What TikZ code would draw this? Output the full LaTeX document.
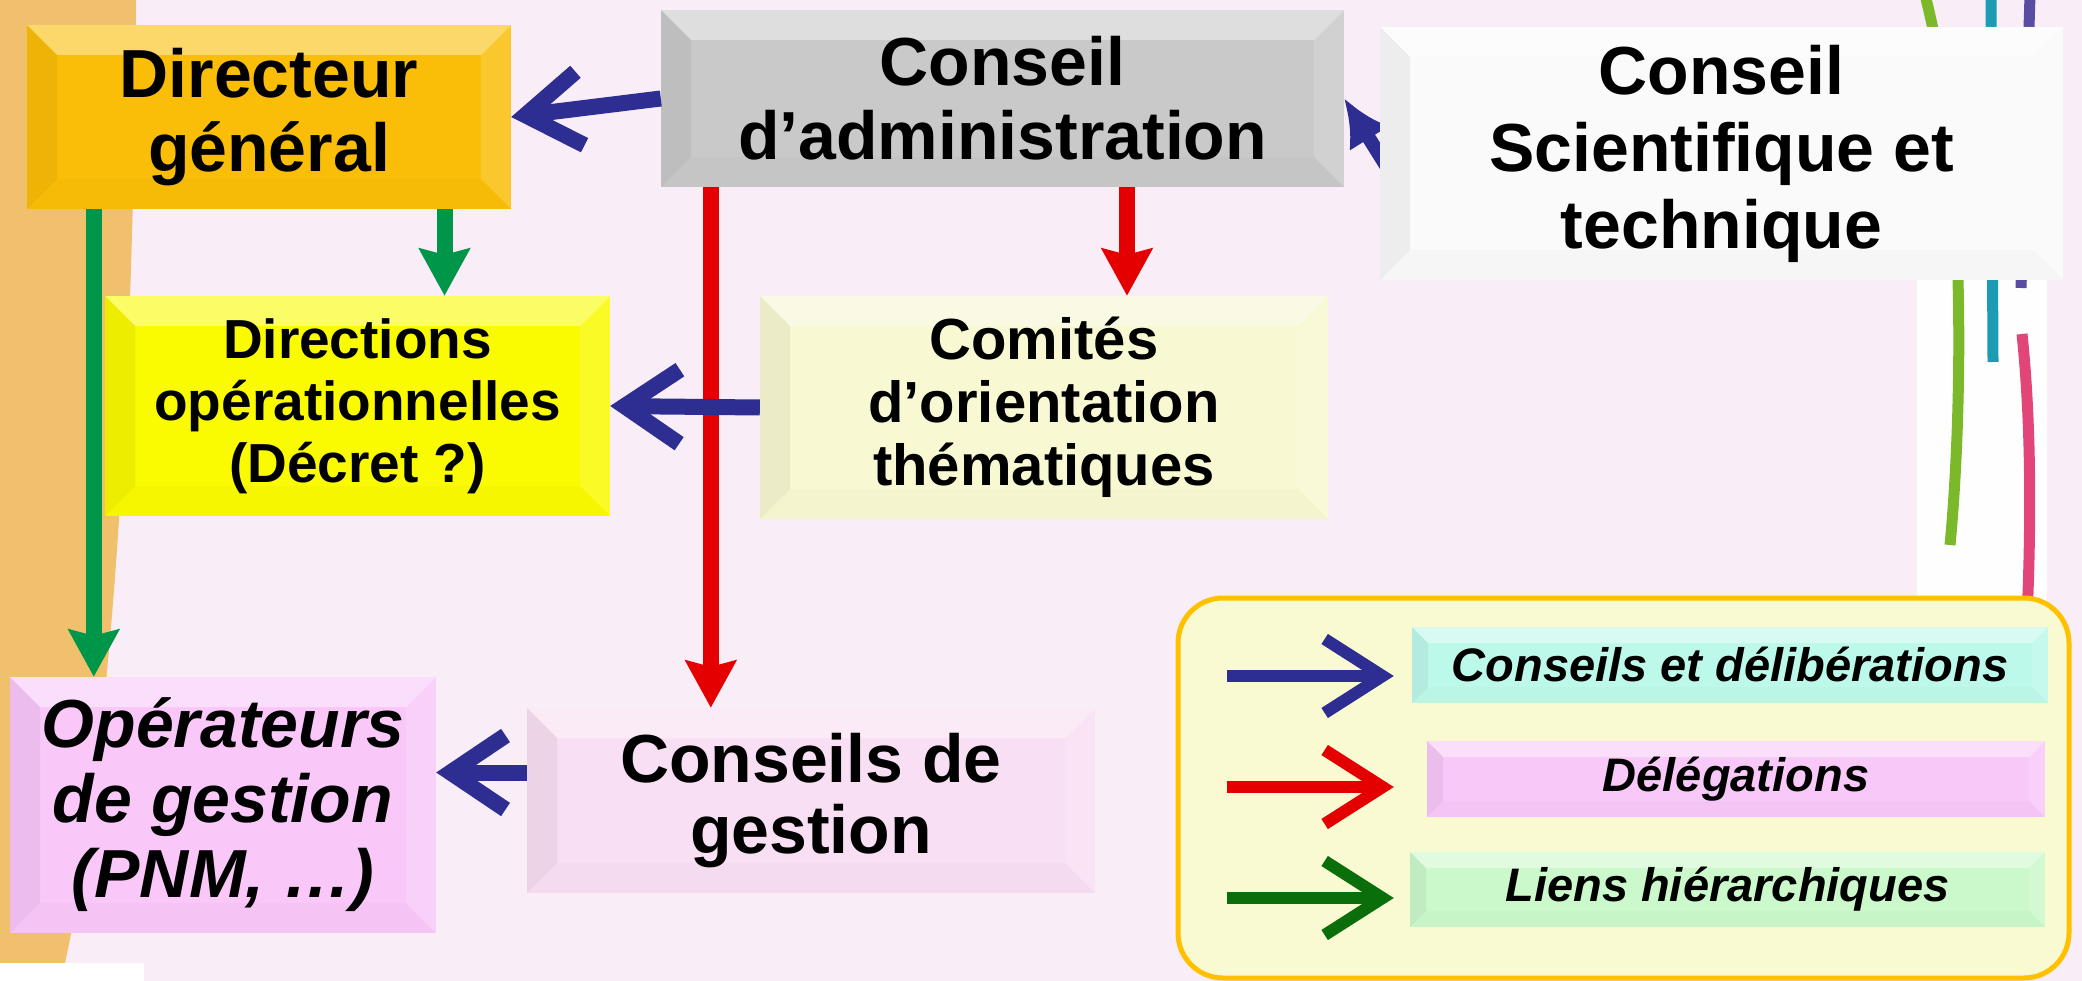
\documentclass[tikz,border=0pt]{standalone}
\usepackage{fontspec}
\setmainfont{Liberation Sans}
\usetikzlibrary{arrows.meta}
\definecolor{bgpink}{HTML}{F9EEF7}
\definecolor{stripe}{HTML}{F0C06C}
\definecolor{dgfill}{HTML}{FABE08}
\definecolor{adminfill}{HTML}{C9C9C9}
\definecolor{cstfill}{HTML}{FAFAFA}
\definecolor{dirfill}{HTML}{FAFA00}
\definecolor{comfill}{HTML}{F8F8D2}
\definecolor{operfill}{HTML}{F9C8F9}
\definecolor{cgfill}{HTML}{F9DFF3}
\definecolor{legfill}{HTML}{FAFAD2}
\definecolor{legdraw}{HTML}{FFC000}
\definecolor{labafill}{HTML}{BDF9EA}
\definecolor{labbfill}{HTML}{F8C8F8}
\definecolor{labcfill}{HTML}{CCF9CC}
\definecolor{arrblue}{HTML}{2E2E92}
\definecolor{arrred}{HTML}{E40000}
\definecolor{arrgreen}{HTML}{00964A}
\definecolor{arrdkgreen}{HTML}{0A6E0A}
\definecolor{lgreen}{HTML}{7CB92A}
\definecolor{lteal}{HTML}{1C9CB2}
\definecolor{lpurple}{HTML}{5A4CA2}
\definecolor{lpink}{HTML}{E24679}
\pgfdeclarelayer{behind}
\pgfsetlayers{behind,main}
\tikzset{
  bevel/.style={path picture={
    \coordinate (bvnw) at (path picture bounding box.north west);
    \coordinate (bvne) at (path picture bounding box.north east);
    \coordinate (bvsw) at (path picture bounding box.south west);
    \coordinate (bvse) at (path picture bounding box.south east);
    \coordinate (bvinw) at ([shift={(#1,-#1)}]bvnw);
    \coordinate (bvine) at ([shift={(-#1,-#1)}]bvne);
    \coordinate (bvisw) at ([shift={(#1,#1)}]bvsw);
    \coordinate (bvise) at ([shift={(-#1,#1)}]bvse);
    \fill[white,opacity=.4] (bvnw) -- (bvne) -- (bvine) -- (bvinw) -- cycle;
    \fill[black,opacity=.05] (bvnw) -- (bvinw) -- (bvisw) -- (bvsw) -- cycle;
    \fill[white,opacity=.15] (bvne) -- (bvse) -- (bvise) -- (bvine) -- cycle;
    \fill[black,opacity=.015] (bvsw) -- (bvisw) -- (bvise) -- (bvse) -- cycle;
  }},
  bevel/.default=30pt
}

\begin{document}
\begin{tikzpicture}[x=1pt,y=1pt]
\tikzstyle{every node}+=[inner sep=0pt]
\tikzstyle{box}=[bevel, align=center, font=\bfseries\fontsize{68}{74}\selectfont]
\tikzstyle{leglab}=[bevel=16pt, font=\bfseries\itshape\fontsize{47}{52}\selectfont]
\tikzstyle{blueline}=[arrblue, line width=16pt, -{Straight Barb[length=55pt, width=74pt]}]
\tikzstyle{redline}=[arrred, line width=16pt, -{Stealth[length=47pt, width=50pt, inset=6pt]}]
\tikzstyle{greenline}=[arrgreen, line width=16pt, -{Stealth[length=47pt, width=50pt, inset=6pt]}]
\tikzstyle{legline}=[line width=12pt, -{Straight Barb[length=58pt, width=74pt]}]
\useasboundingbox (0,0) rectangle (2082,-981);
\begin{pgfonlayer}{behind}
\fill[bgpink] (0,0) rectangle (2082,-981);
\fill[stripe] (0,0) -- (136,0) .. controls (134,-320) and (118,-720) .. (65,-963) -- (0,-963) -- cycle;
\fill[white] (0,-963) rectangle (144,-981);
\fill[white!96!bgpink] (1917,-30) rectangle (2047,-640);
\draw[lgreen, line width=11pt] (1925,5) .. controls (1968,-160) and (1962,-420) .. (1950,-545);
\draw[lteal, line width=11pt] (1991,5) -- (1993,-362);
\draw[lpurple, line width=11pt] (2030,5) -- (2021,-288);
\draw[lpink, line width=11pt] (2022,-334) .. controls (2032,-430) and (2031,-540) .. (2026,-640);
\end{pgfonlayer}
\node[box, fill=dgfill, minimum width=484pt, minimum height=184pt] (dg) at (269,-117) {Directeur\\général};
\node[box, fill=adminfill, minimum width=683pt, minimum height=177pt] (admin) at (1002.5,-98.5) {Conseil\\d’administration};
\node[box, fill=cstfill, minimum width=683pt, minimum height=253pt, font=\bfseries\fontsize{68}{77}\selectfont] (cst) at (1721.5,-153.5) {Conseil\\Scientifique et\\technique};
\node[box, fill=dirfill, minimum width=505pt, minimum height=220pt, font=\bfseries\fontsize{55}{62}\selectfont] (dirop) at (357.5,-406) {Directions\\opérationnelles\\(Décret ?)};
\node[box, fill=comfill, minimum width=568pt, minimum height=223pt, font=\bfseries\fontsize{58}{63}\selectfont] (comites) at (1044,-407.5) {Comités\\d’orientation\\thématiques};
\node[box, fill=operfill, minimum width=426pt, minimum height=256pt, font=\bfseries\itshape\fontsize{68}{75}\selectfont] (oper) at (223,-805) {Opérateurs\\de gestion\\(PNM, …)};
\node[box, fill=cgfill, minimum width=568pt, minimum height=185pt, font=\bfseries\fontsize{68}{71}\selectfont] (cgest) at (811,-800.5) {Conseils de\\gestion};
\draw[legdraw, fill=legfill, line width=5pt, rounded corners=45pt] (1178,-598) rectangle (2069,-978);
\node[leglab, fill=labafill, minimum width=636pt, minimum height=76pt] (laba) at (1730,-665) {Conseils et délibérations};
\node[leglab, fill=labbfill, minimum width=618pt, minimum height=76pt] (labb) at (1736,-779) {Délégations};
\node[leglab, fill=labcfill, minimum width=635pt, minimum height=75pt] (labc) at (1727.5,-889.5) {Liens hiérarchiques};
\begin{pgfonlayer}{behind}
\draw[arrblue, line width=14pt, -{Latex[length=47pt, width=47pt]}] ([shift={(15pt,-26pt)}]cst.west) -- (admin.east);
\end{pgfonlayer}
\draw[redline] ([xshift=50pt]admin.south west) -- ([xshift=50pt]admin.south west |- cgest.north);
\draw[redline] ([xshift=83pt]comites.north |- admin.south) -- ([xshift=83pt]comites.north);
\draw[greenline] ([xshift=67pt]dg.south west) -- ([xshift=67pt]dg.south west |- oper.north);
\draw[greenline] ([xshift=87pt]dirop.north |- dg.south) -- ([xshift=87pt]dirop.north);
\draw[blueline] (admin.west) -- (dg.east);
\draw[blueline] (comites.west) -- (dirop.east);
\draw[blueline] ([yshift=28pt]cgest.west) -- ([yshift=28pt]cgest.west -| oper.east);
\draw[legline, arrblue] ([shift={(-185pt,-11pt)}]laba.west) -- ([shift={(-18pt,-11pt)}]laba.west);
\draw[legline, arrred] ([shift={(-200pt,-8pt)}]labb.west) -- ([shift={(-33pt,-8pt)}]labb.west);
\draw[legline, arrdkgreen] ([shift={(-183pt,-8.5pt)}]labc.west) -- ([shift={(-16pt,-8.5pt)}]labc.west);
\end{tikzpicture}
\end{document}
